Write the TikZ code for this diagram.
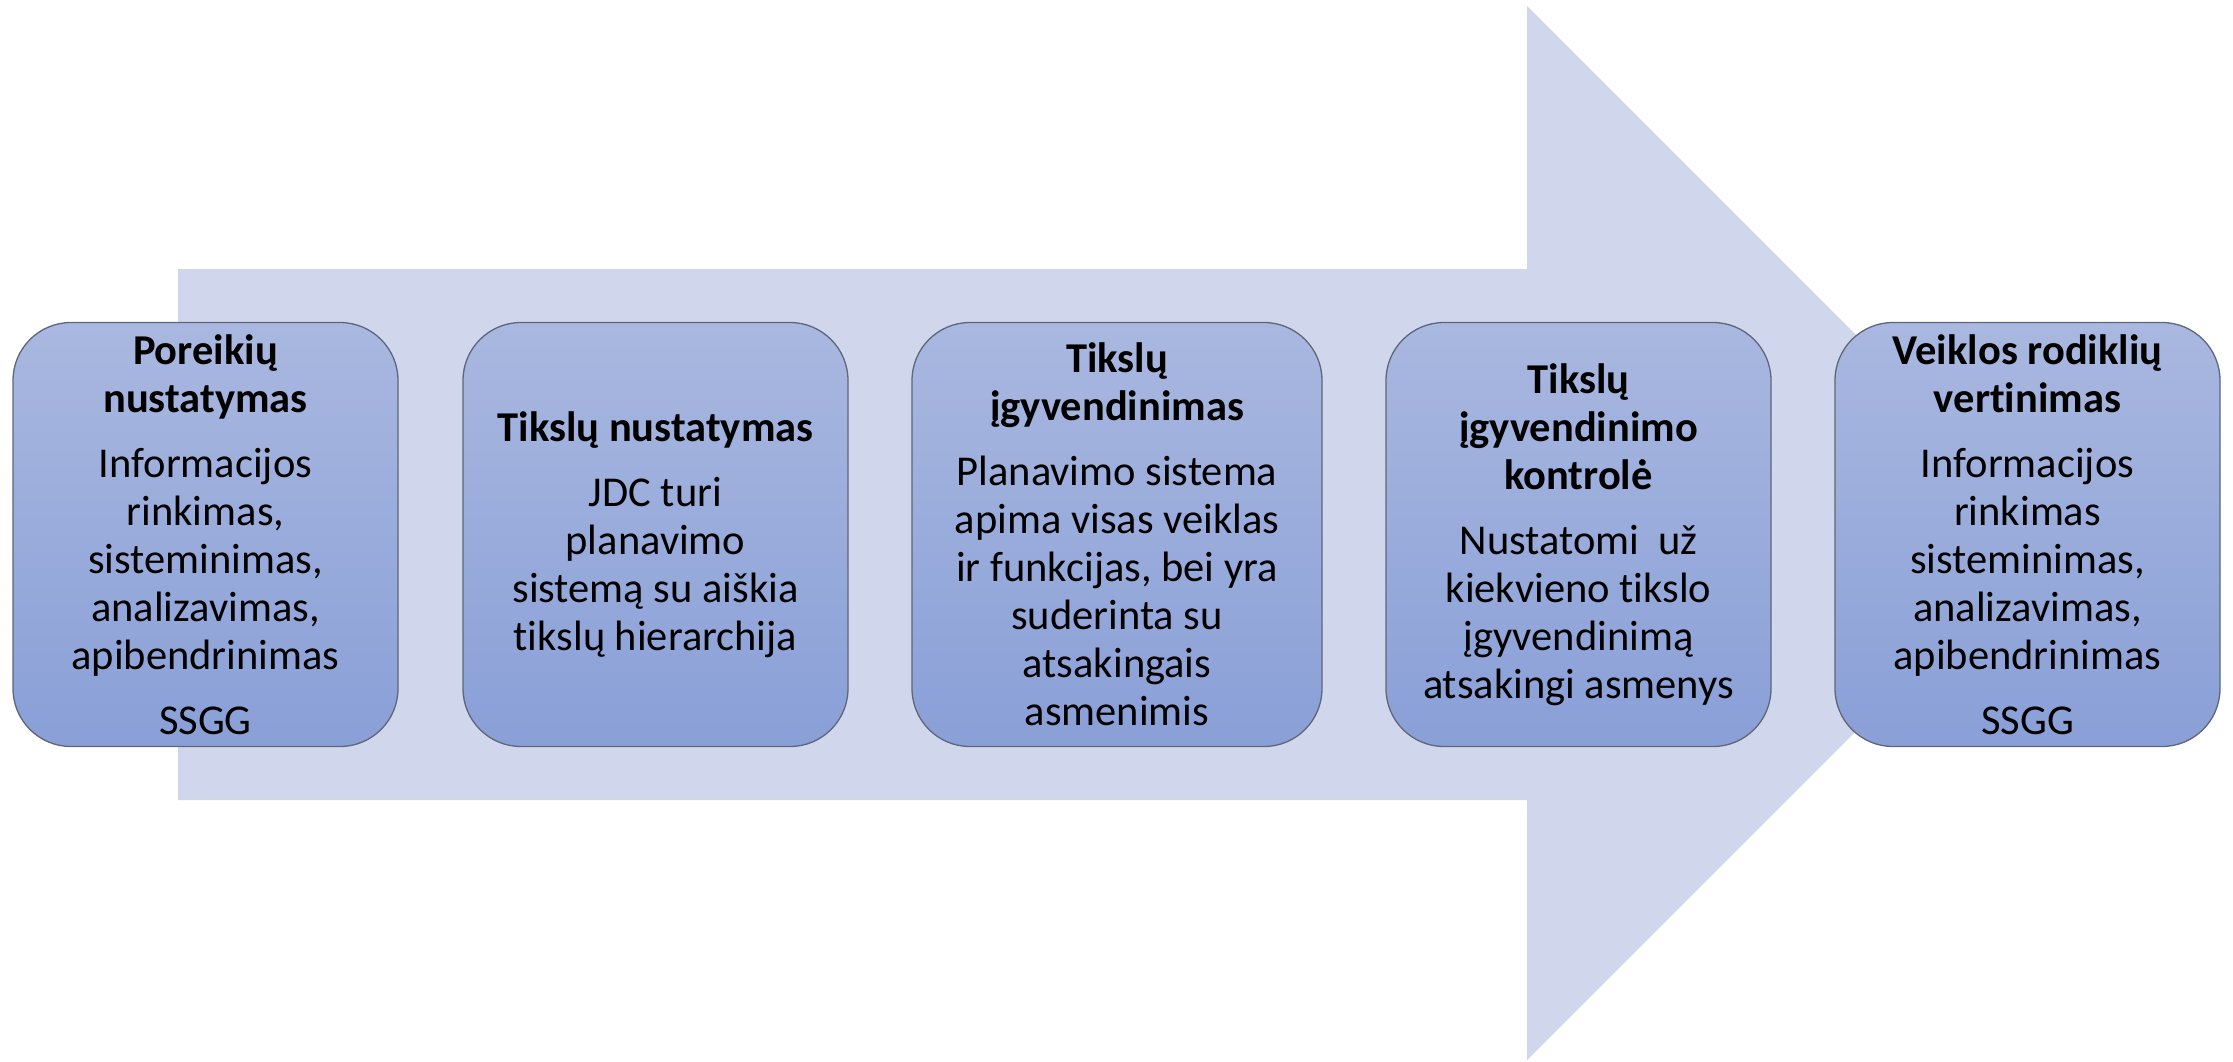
\documentclass[tikz,border=0pt]{standalone}
\usepackage{fontspec}
\setmainfont{Carlito}[Ligatures=CommonOff]
\definecolor{arrowfill}{HTML}{D0D7EC}
\definecolor{boxtop}{HTML}{A9B8E0}
\definecolor{boxbot}{HTML}{899FD7}
\definecolor{boxline}{HTML}{5E6678}
\tikzset{
  stagebox/.style={draw=boxline, line width=1.3pt, rounded corners=58pt,
    top color=boxtop, bottom color=boxbot, minimum height=424pt,
    inner sep=0pt, align=center, text=black,
    font=\fontsize{42.5}{48}\selectfont},
}
\begin{document}
\begin{tikzpicture}[x=1pt,y=-1pt]
\useasboundingbox (0,0) rectangle (2233,1061);
\fill[arrowfill] (178,269) -- (1527,269) -- (1527,6) -- (2054,533) -- (1527,1060) -- (1527,800) -- (178,800) -- cycle;
\node[stagebox, minimum width=385pt] (b1) at (205.5,534.5)
 {\textbf{Poreikių}\\\textbf{nustatymas}\\[17pt]Informacijos\\rinkimas,\\sisteminimas,\\analizavimas,\\apibendrinimas\\[17pt]SSGG};
\node[stagebox, minimum width=385pt] (b2) at (655.5,534.5)
 {\textbf{Tikslų nustatymas}\\[17pt]JDC turi\\planavimo\\sistemą su aiškia\\tikslų hierarchija};
\node[stagebox, minimum width=410pt] (b3) at (1117,534.5)
 {\textbf{Tikslų}\\\textbf{įgyvendinimas}\\[17pt]Planavimo sistema\\apima visas veiklas\\ir funkcijas, bei yra\\suderinta su\\atsakingais\\asmenimis};
\node[stagebox, minimum width=385pt] (b4) at (1578.5,534.5)
 {\textbf{Tikslų}\\\textbf{įgyvendinimo}\\\textbf{kontrolė}\\[17pt]Nustatomi\ \ už\\kiekvieno tikslo\\įgyvendinimą\\atsakingi asmenys};
\node[stagebox, minimum width=385pt] (b5) at (2027.5,534.5)
 {\textbf{Veiklos rodiklių}\\\textbf{vertinimas}\\[17pt]Informacijos\\rinkimas\\sisteminimas,\\analizavimas,\\apibendrinimas\\[17pt]SSGG};
\end{tikzpicture}
\end{document}
